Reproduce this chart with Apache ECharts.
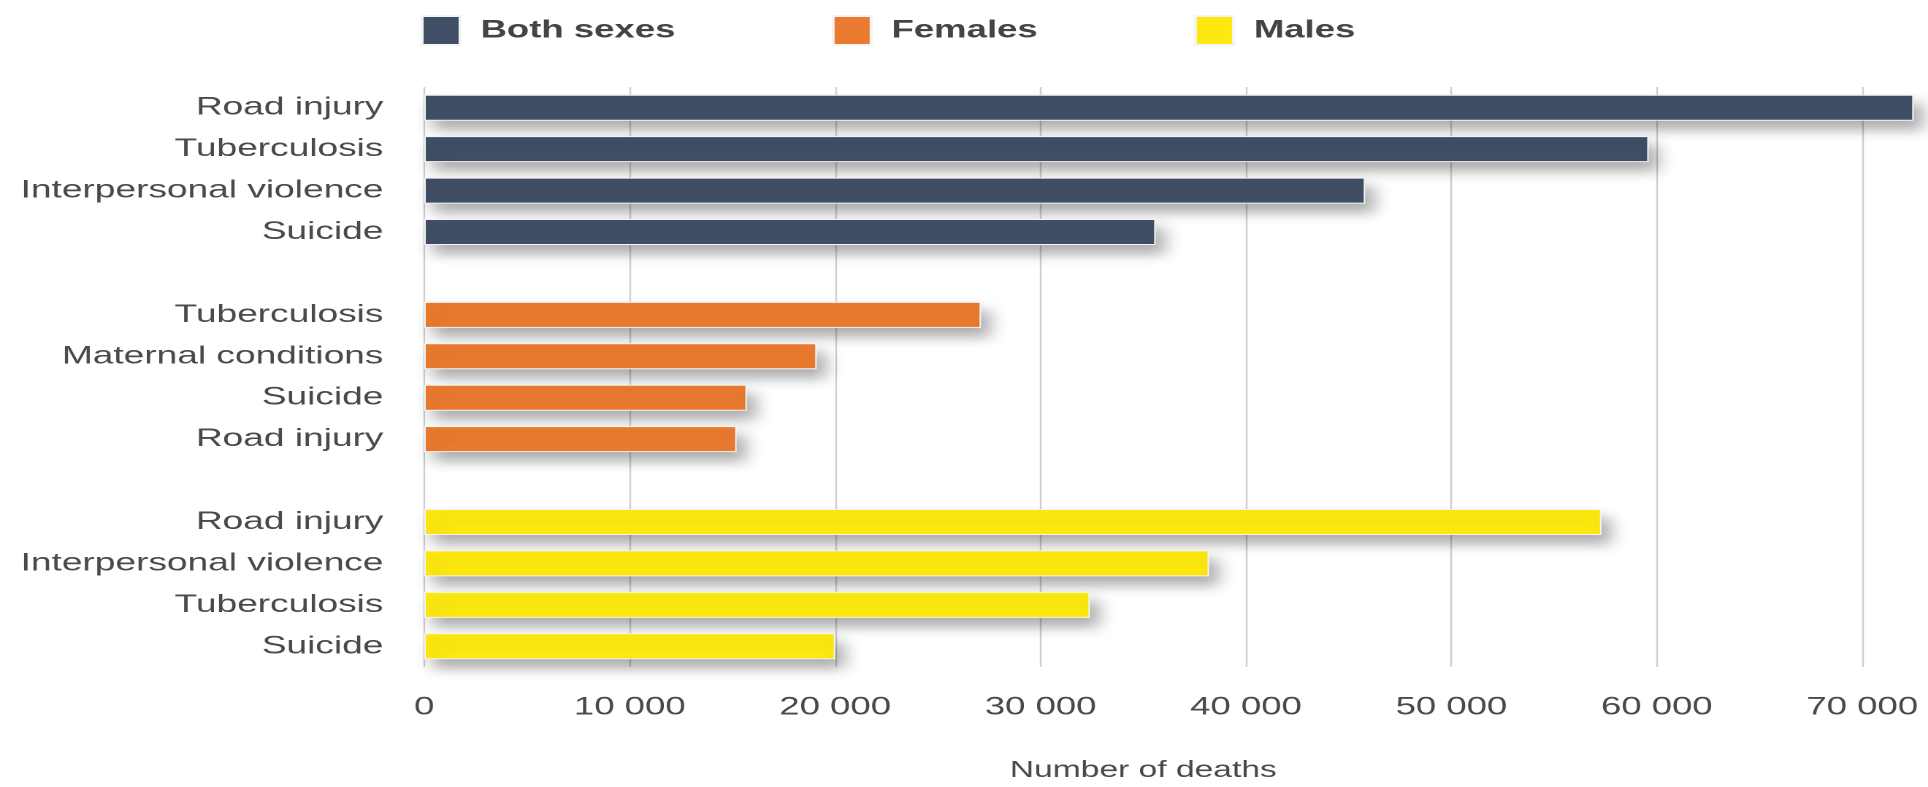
<!DOCTYPE html>
<html>
<head>
<meta charset="utf-8">
<title>Leading causes of death</title>
<script src="https://cdn.jsdelivr.net/npm/echarts@6/dist/echarts.min.js"></script>
<style>
  html, body { margin: 0; padding: 0; background: #ffffff; overflow: hidden; }
  /* The chart is laid out in a narrower box and stretched horizontally. */
  #chart {
    width: 1320px;
    height: 787px;
    transform: scaleX(1.460606);
    transform-origin: 0 0;
  }
</style>
</head>
<body>
<div id="chart"></div>
<script>
// Causes and number of deaths, per group
const bothCauses = ['Road injury', 'Tuberculosis', 'Interpersonal violence', 'Suicide'];
const bothDeaths = [72500, 59600, 45800, 35600];

const femaleCauses = ['Tuberculosis', 'Maternal conditions', 'Suicide', 'Road injury'];
const femaleDeaths = [27100, 19100, 15700, 15200];

const maleCauses = ['Road injury', 'Interpersonal violence', 'Tuberculosis', 'Suicide'];
const maleDeaths = [57300, 38200, 32400, 20000];

const groupNames = ['Both sexes', 'Females', 'Males'];
const groupColors = ['#404f66', '#ea7a2f', '#fde90f'];

const xTicks = [0, 10000, 20000, 30000, 40000, 50000, 60000, 70000];
const axisTitle = 'Number of deaths';

// One category row per cause, with an empty row between groups
const groups = [
  { causes: bothCauses, deaths: bothDeaths },
  { causes: femaleCauses, deaths: femaleDeaths },
  { causes: maleCauses, deaths: maleDeaths }
];
const categories = [];
const rowsOf = [];
groups.forEach((g, gi) => {
  if (gi > 0) categories.push('');
  const rows = [];
  g.causes.forEach(c => { rows.push(categories.length); categories.push(c); });
  rowsOf.push(rows);
});

const seriesData = groups.map((g, gi) => {
  const arr = categories.map(() => null);
  rowsOf[gi].forEach((row, i) => { arr[row] = g.deaths[i]; });
  return arr;
});

const fmt = v => String(v).replace(/\B(?=(\d{3})+(?!\d))/g, ' ');

const FONT = '"Liberation Sans", Arial, Helvetica, sans-serif';
const TEXT = '#4a4a4a';

const chart = echarts.init(document.getElementById('chart'), null, { devicePixelRatio: 2 });

chart.setOption({
  animation: false,
  backgroundColor: '#ffffff',
  legend: {
    left: 283,
    top: 10,
    itemWidth: 26,
    itemHeight: 29,
    itemGap: 107,
    icon: 'rect',
    data: groupNames,
    textStyle: {
      fontFamily: FONT,
      fontSize: 25,
      fontWeight: 'bold',
      color: '#444444',
      padding: [2, 0, 0, 9]
    }
  },
  grid: {
    left: 290.5,
    right: 45,
    top: 87,
    bottom: 110,
    containLabel: false
  },
  xAxis: {
    type: 'value',
    min: xTicks[0],
    max: xTicks[xTicks.length - 1],
    interval: xTicks[1] - xTicks[0],
    name: axisTitle,
    nameLocation: 'middle',
    nameGap: 92,
    nameTextStyle: {
      fontFamily: FONT,
      fontSize: 23,
      color: TEXT
    },
    axisLine: { show: false },
    axisTick: { show: false },
    axisLabel: {
      margin: 28,
      fontFamily: FONT,
      fontSize: 25,
      color: TEXT,
      formatter: fmt
    },
    splitLine: {
      show: true,
      lineStyle: { color: '#cfcfcf', width: 1.2 }
    }
  },
  yAxis: {
    type: 'category',
    data: categories,
    inverse: true,
    axisLine: { show: false },
    axisTick: { show: false },
    splitLine: { show: false },
    axisLabel: {
      margin: 28,
      fontFamily: FONT,
      fontSize: 25.4,
      color: TEXT,
      padding: [3, 0, 0, 0]
    }
  },
  series: groupNames.map((name, gi) => ({
    name: name,
    type: 'bar',
    data: seriesData[gi],
    barWidth: 26,
    barGap: '-100%',
    clip: false,
    itemStyle: {
      color: groupColors[gi],
      borderColor: '#f4f4f4',
      borderWidth: 1,
      shadowColor: 'rgba(0, 0, 0, 0.32)',
      shadowBlur: 12,
      shadowOffsetX: 6,
      shadowOffsetY: 9
    },
    emphasis: { disabled: true }
  }))
});
</script>
</body>
</html>
